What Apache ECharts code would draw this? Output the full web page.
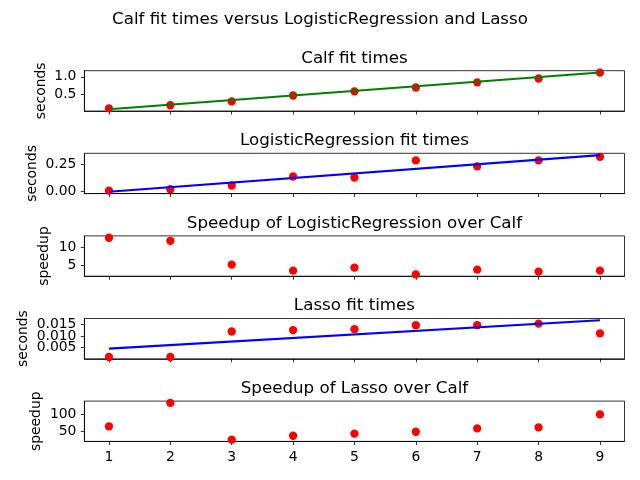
<!DOCTYPE html>
<html><head><meta charset="utf-8">
<script src="https://cdn.jsdelivr.net/npm/echarts@6/dist/echarts.min.js"></script>
<style>html,body{margin:0;padding:0;background:#fff}#c{width:640px;height:480px}</style>
</head><body><div id="c"></div>
<script>
// ---------------- data ----------------
const xValues = [1, 2, 3, 4, 5, 6, 7, 8, 9];
const xTicks = [1, 2, 3, 4, 5, 6, 7, 8, 9];
const fitLineX = [1, 9];

const calfTimes = [0.09, 0.18, 0.29, 0.46, 0.58, 0.69, 0.84, 0.95, 1.12];
const calfFitLine = [0.066, 1.122];

const lrTimes = [0.009, 0.021, 0.055, 0.137, 0.128, 0.284, 0.229, 0.284, 0.317];
const lrFitLine = [-0.002, 0.332];

const lrSpeedup = [12.67, 11.83, 5.28, 3.61, 4.44, 2.58, 3.89, 3.33, 3.61];

const lassoTimes = [0.001, 0.001, 0.0120, 0.0126, 0.0130, 0.0147, 0.0147, 0.0154, 0.0112];
const lassoFitLine = [0.0046, 0.0168];

const lassoSpeedup = [64.3, 134.5, 24.5, 36, 42.5, 48, 58, 61, 100];

const yTicksCalf = [0.5, 1.0];
const yTicksLr = [0.0, 0.25];
const yTicksLrSpeedup = [5, 10];
const yTicksLasso = [0.005, 0.010, 0.015];
const yTicksLassoSpeedup = [50, 100];

const superTitle = 'Calf fit times versus LogisticRegression and Lasso';
const panelTitles = ['Calf fit times', 'LogisticRegression fit times', 'Speedup of LogisticRegression over Calf', 'Lasso fit times', 'Speedup of Lasso over Calf'];
const yNames = ['seconds', 'seconds', 'speedup', 'seconds', 'speedup'];

// ---------------- layout ----------------
const panels = [
  {vals: calfTimes, line: calfFitLine, lineColor: '#008000', ticks: yTicksCalf, dec: 1, nameX: 41},
  {vals: lrTimes, line: lrFitLine, lineColor: '#0000ff', ticks: yTicksLr, dec: 2, nameX: 32},
  {vals: lrSpeedup, line: null, ticks: yTicksLrSpeedup, dec: 0, nameX: 44},
  {vals: lassoTimes, line: lassoFitLine, lineColor: '#0000ff', ticks: yTicksLasso, dec: 3, nameX: 23},
  {vals: lassoSpeedup, line: null, ticks: yTicksLassoSpeedup, dec: 0, nameX: 36}
];
const LEFT = 84.4, RIGHT = 624.5, H = 40.3;
const tops = [70.7, 153.3, 235.9, 318.5, 401.1];
const FONT = 'DejaVu Sans';
const fs = 13.9, tfs = 16.7;

const grids = [], xAxes = [], yAxes = [], series = [], graphics = [];
panels.forEach((p, i) => {
  const all = p.vals.concat(p.line || []);
  const lo = Math.min(...all), hi = Math.max(...all), pad = (hi - lo) * 0.05;
  grids.push({left: LEFT, top: tops[i], width: RIGHT - LEFT, height: H, show: true,
    borderColor: '#000', borderWidth: 0.8, backgroundColor: 'transparent', containLabel: false});
  xAxes.push({gridIndex: i, type: 'value', min: 0.6, max: 9.4,
    axisLine: {show: true, onZero: false, lineStyle: {color: '#000', width: 0.8}},
    axisTick: {show: true, length: 3.5, lineStyle: {color: '#000', width: 0.8}, customValues: xTicks},
    axisLabel: {show: i === 4, customValues: xTicks, margin: 8.5, color: '#000', fontSize: fs, fontFamily: FONT,
      hideOverlap: false, interval: 0},
    splitLine: {show: false}});
  const yIdx = yAxes.length;
  // main y axis: line + ticks, no labels
  yAxes.push({gridIndex: i, type: 'value', min: lo - pad, max: hi + pad, position: 'left',
    axisLine: {show: true, onZero: false, lineStyle: {color: '#000', width: 0.8}},
    axisTick: {show: true, length: 3.5, lineStyle: {color: '#000', width: 0.8}, customValues: p.ticks},
    axisLabel: {show: false},
    splitLine: {show: false}});
  // one label-only axis per tick so no label gets hidden by overlap handling
  p.ticks.forEach(t => {
    yAxes.push({gridIndex: i, type: 'value', min: lo - pad, max: hi + pad, position: 'left', offset: 0,
      axisLine: {show: false, onZero: false}, axisTick: {show: false}, splitLine: {show: false},
      axisLabel: {show: true, customValues: [t], margin: 8, color: '#000', fontSize: fs, fontFamily: FONT,
        formatter: v => Number(v).toFixed(p.dec)}});
  });
  series.push({type: 'scatter', xAxisIndex: i, yAxisIndex: yIdx, symbol: 'circle', symbolSize: 8.3,
    itemStyle: {color: '#ff0000', opacity: 1}, z: 2, silent: true,
    data: xValues.map((x, k) => [x, p.vals[k]])});
  if (p.line) {
    series.push({type: 'line', xAxisIndex: i, yAxisIndex: yIdx, symbol: 'none', z: 3, silent: true,
      lineStyle: {color: p.lineColor, width: 2.08}, data: fitLineX.map((x, k) => [x, p.line[k]])});
  }
  graphics.push({type: 'text', x: (LEFT + RIGHT) / 2, y: tops[i] - 12.5,
    style: {text: panelTitles[i], align: 'center', verticalAlign: 'middle', font: tfs + 'px "' + FONT + '"', fill: '#000'}});
  graphics.push({type: 'text', x: p.nameX, y: tops[i] + H / 2, rotation: Math.PI / 2,
    style: {text: yNames[i], align: 'center', verticalAlign: 'middle', font: fs + 'px "' + FONT + '"', fill: '#000'}});
});
graphics.push({type: 'text', x: 320, y: 20,
  style: {text: superTitle, align: 'center', verticalAlign: 'middle', font: tfs + 'px "' + FONT + '"', fill: '#000'}});

const chart = echarts.init(document.getElementById('c'), null, {renderer: 'canvas'});
chart.setOption({animation: false, backgroundColor: '#fff', grid: grids, xAxis: xAxes, yAxis: yAxes, series: series, graphic: graphics});
</script></body></html>
